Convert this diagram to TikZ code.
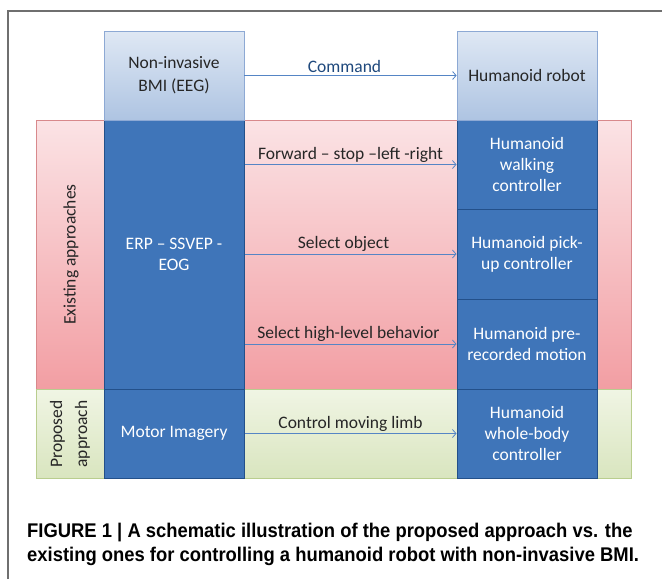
\documentclass[tikz,border=0pt]{standalone}
\usepackage{fontspec}
\setmainfont{Carlito}
\newfontfamily\capfont{Liberation Sans}
\usetikzlibrary{arrows.meta}
\definecolor{txt}{HTML}{262626}
\definecolor{cmdcol}{HTML}{1F497D}
\definecolor{toptop}{HTML}{DFE8F4}
\definecolor{topbot}{HTML}{AEC4E2}
\definecolor{topedge}{HTML}{8DA9D4}
\definecolor{bluefill}{HTML}{3F75B9}
\definecolor{blueedge}{HTML}{23508A}
\definecolor{pinktop}{HTML}{FBE3E5}
\definecolor{pinkbot}{HTML}{F29EA3}
\definecolor{pinkedge}{HTML}{D8898C}
\definecolor{greentop}{HTML}{F0F5E4}
\definecolor{greenbot}{HTML}{D9E5BF}
\definecolor{greenedge}{HTML}{B9CD8E}
\definecolor{arrcol}{HTML}{5585C5}
\definecolor{framecol}{HTML}{6F6F6F}
\begin{document}
\begin{tikzpicture}[x=1pt,y=-1pt,
  lab/.style={font=\fontsize{17.5}{21}\selectfont, align=center},
  topbox/.style={lab, draw=topedge, top color=toptop, bottom color=topbot, minimum width=140pt, minimum height=89pt, inner sep=0pt, text=txt, line width=0.8pt},
  bluebox/.style={lab, draw=blueedge, fill=bluefill, text=white, minimum width=140pt, inner sep=0pt, line width=1pt},
  region/.style={minimum width=595pt, inner sep=0pt, line width=0.8pt},
  arr/.style={draw=arrcol, line width=0.8pt, -{Straight Barb[length=3.5pt,width=8pt]}},
  arrlab/.style={lab, text=txt, above, inner sep=2pt},
  sidelab/.style={lab, rotate=90, text=txt}
]
\useasboundingbox (0,0) rectangle (662,579);
\fill[white] (0,0) rectangle (662,579);
% frame
\coordinate (fb) at (8,579);
\coordinate (ft) at (8,11);
\coordinate (fr) at (662,11);
\draw[framecol, line width=1.5pt] (fb) -- (ft) -- (fr);
% regions
\node[region, draw=pinkedge, top color=pinktop, bottom color=pinkbot, minimum height=269pt] (exist) at (333.5,254.5) {};
\node[region, draw=greenedge, top color=greentop, bottom color=greenbot, minimum height=89pt] (prop) at (333.5,433.5) {};
\node[sidelab] (existlab) at (71,254.5) {Existing approaches};
\node[sidelab, font=\fontsize{17.5}{25}\selectfont] (proplab) at (70,434) {Proposed\\approach};
% blue boxes
\node[bluebox, minimum height=269pt] (erp) at (174,254.5) {ERP – SSVEP -\\EOG};
\node[bluebox, minimum height=89pt] (motor) at (174,433.5) {Motor Imagery};
\node[bluebox, minimum height=89pt] (walk) at (527,164.5) {Humanoid\\walking\\controller};
\node[bluebox, minimum height=90pt] (pick) at (527,254) {Humanoid pick-\\up controller};
\node[bluebox, minimum height=90pt] (pre) at (527,344) {Humanoid pre-\\recorded motion};
\node[bluebox, minimum height=89pt] (whole) at (527,433.5) {Humanoid\\whole-body\\controller};
% top boxes
\node[topbox, font=\fontsize{17.5}{23}\selectfont] (bmi) at (174,75.5) {Non-invasive\\BMI (EEG)};
\node[topbox] (robot) at (527,75.5) {Humanoid robot};
% arrows
\draw[arr] (bmi.east) -- node[arrlab, text=cmdcol, xshift=-6pt] {Command} (robot.west);
\draw[arr] (erp.east |- walk.west) -- node[arrlab] {Forward – stop –left -right} (walk.west);
\draw[arr] (erp.east |- pick.west) -- node[arrlab, xshift=-7pt] {Select object} (pick.west);
\draw[arr] (erp.east |- pre.west) -- node[arrlab, xshift=-2pt] {Select high-level behavior} (pre.west);
\draw[arr] (motor.east) -- node[arrlab] {Control moving limb} (whole.west);
% caption
\node[anchor=west, inner sep=0pt, text=black] (cap) at (27,545) {\scalebox{0.93}[1]{\capfont\bfseries\fontsize{19.8}{23.5}\selectfont\begin{tabular}{@{}l@{}}FIGURE 1 | A schematic illustration of the proposed approach vs. the\\existing ones for controlling a humanoid robot with non-invasive BMI.\end{tabular}}};
\end{tikzpicture}
\end{document}
